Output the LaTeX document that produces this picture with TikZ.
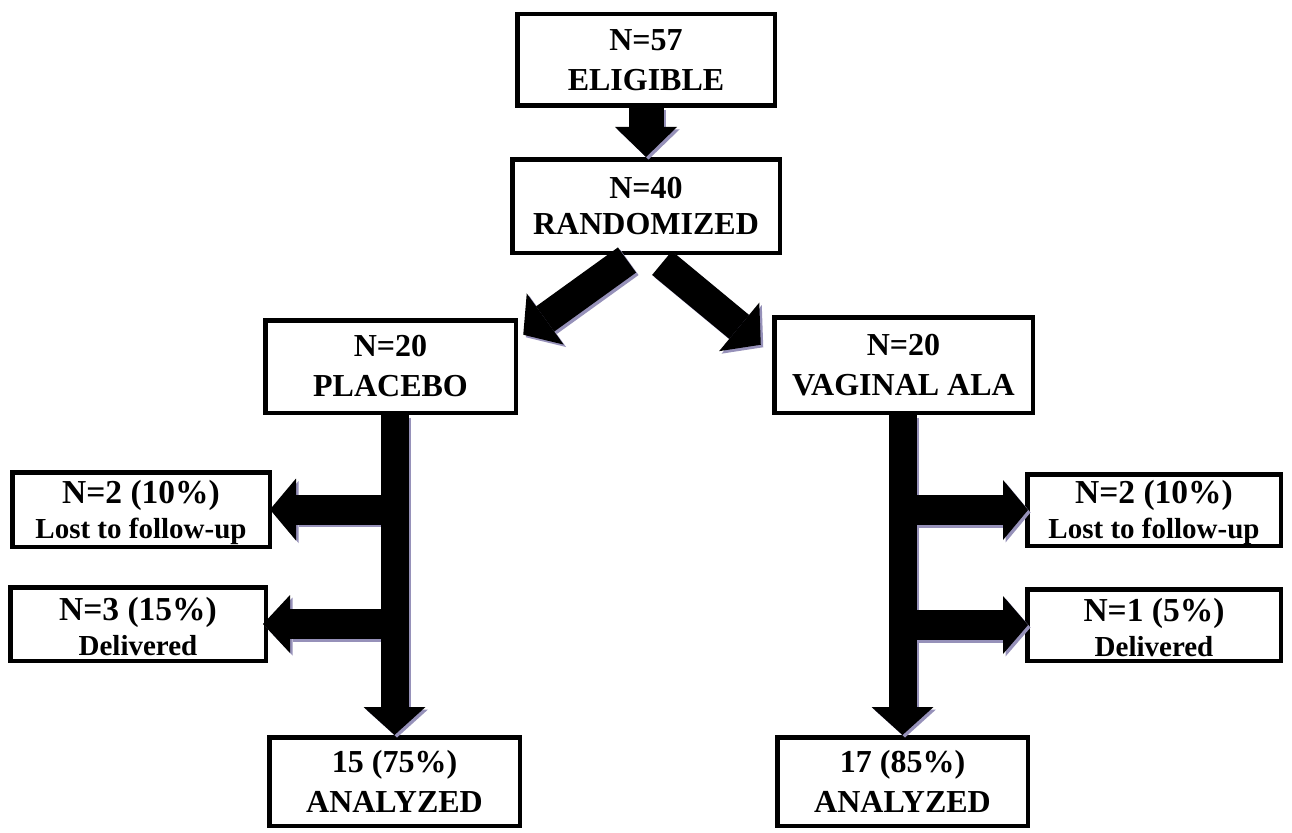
\documentclass[tikz,border=0pt]{standalone}
\usepackage{fontspec}
\setmainfont{Liberation Serif}
\usetikzlibrary{arrows.meta,calc}
\definecolor{shade}{RGB}{150,145,185}
\newcommand{\topstrut}{\rule{0pt}{29pt}}
\begin{document}
\begin{tikzpicture}[x=1pt,y=-1pt,
  box/.style={draw=black,line width=4.5pt,fill=white,inner sep=0pt,align=center,
    font=\fontsize{32}{40}\selectfont\bfseries},
  sbox/.style={box,font=\fontsize{29}{35}\selectfont\bfseries},
  fat/.style n args={3}{line width=#1,-{Triangle[width=#2,length=#3,line width=0pt]}},
  blk/.style={draw=black,color=black},
  shad/.style={draw=shade,color=shade,transform canvas={shift={(2.5pt,-2.5pt)}}},
]
\useasboundingbox (0,0) rectangle (1292,832);

% boxes
\node[box,minimum width=257.5,minimum height=91.5] (elig) at (646,60) {N=57\\ELIGIBLE};
\node[box,font=\fontsize{32}{36}\selectfont\bfseries,minimum width=267.5,minimum height=93.5] (rand) at (646,206) {N=40\\RANDOMIZED};
\node[box,minimum width=250.5,minimum height=92.5] (plac) at (390.5,366.5) {N=20\\PLACEBO};
\node[box,minimum width=258.5,minimum height=95.5] (vag) at (903.5,365) {N=20\\VAGINAL ALA};
\node[sbox,minimum width=257.5,minimum height=74.5] (lostL) at (141,509.5) {{\fontsize{33.5}{35}\selectfont\topstrut N=2 (10\%)}\\Lost to follow-up};
\node[sbox,minimum width=255.5,minimum height=73.5] (delL) at (138,624) {{\fontsize{33.5}{35}\selectfont\topstrut N=3 (15\%)}\\Delivered};
\node[sbox,minimum width=253.5,minimum height=71.5] (lostR) at (1154,510) {{\fontsize{33.5}{35}\selectfont\topstrut N=2 (10\%)}\\Lost to follow-up};
\node[sbox,minimum width=253.5,minimum height=71.5] (delR) at (1154,625) {{\fontsize{33.5}{35}\selectfont\topstrut N=1 (5\%)}\\Delivered};
\node[box,minimum width=250.5,minimum height=88.5] (anaL) at (394.5,781.5) {15 (75\%)\\ANALYZED};
\node[box,minimum width=250.5,minimum height=88.5] (anaR) at (902.5,781.5) {17 (85\%)\\ANALYZED};

% connectors: shadows then black
\foreach \s in {shad,blk}{
  \draw[\s,fat={35pt}{62pt}{30pt}] (elig.south) -- (rand.north);
  \draw[\s,fat={31pt}{63pt}{27pt}] ($(rand.south)+(-19,5)$) -- ($(plac.north east)+(5.25,16.75)$);
  \draw[\s,fat={31pt}{63pt}{28pt}] ($(rand.south)+(16,8)$) -- ($(vag.north west)+(-11.25,29.75)$);
  \draw[\s,fat={28pt}{62pt}{28pt}] (anaL.north |- plac.south) -- (anaL.north);
  \draw[\s,fat={28pt}{62pt}{28pt}] (anaR.north |- vag.south) -- (anaR.north);
  \draw[\s,fat={30pt}{62pt}{26pt}] (anaL.north |- lostL.east) -- ($(lostL.east)+(-2,0)$);
  \draw[\s,fat={30pt}{58pt}{27pt}] (anaL.north |- delL.east) -- ($(delL.east)+(-5,0)$);
  \draw[\s,fat={30pt}{60pt}{25pt}] (anaR.north |- lostR.west) -- ($(lostR.west)+(3,0)$);
  \draw[\s,fat={30pt}{58pt}{25pt}] (anaR.north |- delR.west) -- ($(delR.west)+(3,0)$);
}
\end{tikzpicture}
\end{document}
